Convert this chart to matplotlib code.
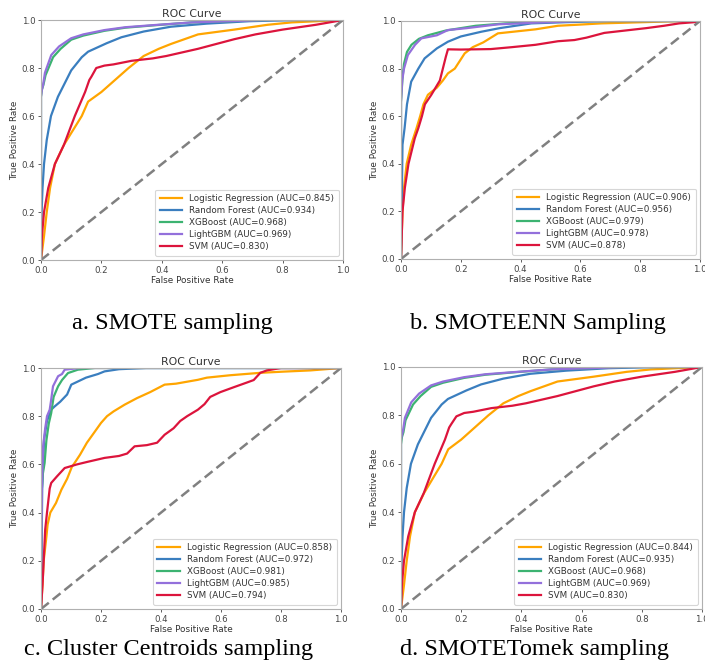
import matplotlib
matplotlib.use("Agg")
import matplotlib.pyplot as plt

# ---------------- data ----------------
model_names = ["Logistic Regression", "Random Forest", "XGBoost", "LightGBM", "SVM"]
model_colors = ["#FFA500", "#3A7EBF", "#3CB371", "#9370DB", "#DC143C"]

panel_captions = ["a. SMOTE sampling", "b. SMOTEENN Sampling",
                  "c. Cluster Centroids sampling", "d. SMOTETomek sampling"]

auc_smote = [0.845, 0.934, 0.968, 0.969, 0.830]
auc_smoteenn = [0.906, 0.956, 0.979, 0.978, 0.878]
auc_cc = [0.858, 0.972, 0.981, 0.985, 0.794]
auc_tomek = [0.844, 0.935, 0.968, 0.969, 0.830]

# Panel a: SMOTE
a_lr_fpr = [0, 0.005, 0.01, 0.019, 0.03, 0.046, 0.076, 0.135, 0.156, 0.2, 0.245, 0.29, 0.34, 0.39, 0.43, 0.52, 0.64, 0.75, 0.83, 1.0]
a_lr_tpr = [0, 0.05, 0.1, 0.2, 0.3, 0.4, 0.48, 0.6, 0.66, 0.7, 0.75, 0.8, 0.85, 0.88, 0.9, 0.94, 0.96, 0.98, 0.99, 1.0]
a_rf_fpr = [0, 0.002, 0.005, 0.01, 0.019, 0.033, 0.056, 0.10, 0.135, 0.156, 0.217, 0.266, 0.34, 0.43, 0.55, 0.69, 0.85, 1.0]
a_rf_tpr = [0, 0.2, 0.3, 0.4, 0.5, 0.6, 0.68, 0.79, 0.845, 0.868, 0.903, 0.928, 0.952, 0.972, 0.985, 0.995, 1.0, 1.0]
a_xgb_fpr = [0, 0, 0.003, 0.008, 0.015, 0.04, 0.065, 0.10, 0.14, 0.21, 0.28, 0.376, 0.5, 0.75, 1.0]
a_xgb_tpr = [0, 0.68, 0.71, 0.73, 0.77, 0.845, 0.88, 0.918, 0.935, 0.955, 0.968, 0.978, 0.99, 1.0, 1.0]
a_lgb_fpr = [0, 0, 0.003, 0.007, 0.013, 0.034, 0.06, 0.10, 0.14, 0.21, 0.28, 0.376, 0.5, 0.75, 1.0]
a_lgb_tpr = [0, 0.68, 0.71, 0.73, 0.78, 0.854, 0.89, 0.924, 0.94, 0.958, 0.97, 0.979, 0.99, 1.0, 1.0]
a_svm_fpr = [0, 0.003, 0.01, 0.024, 0.046, 0.076, 0.112, 0.146, 0.16, 0.167, 0.183, 0.21, 0.24, 0.3, 0.37, 0.415, 0.52, 0.58, 0.64, 0.71, 0.80, 0.91, 1.0]
a_svm_tpr = [0, 0.1, 0.2, 0.3, 0.4, 0.48, 0.6, 0.7, 0.75, 0.764, 0.80, 0.81, 0.815, 0.83, 0.84, 0.85, 0.88, 0.9, 0.92, 0.94, 0.96, 0.98, 1.0]

# Panel b: SMOTEENN
b_lr_fpr = [0, 0.005, 0.01, 0.019, 0.034, 0.052, 0.064, 0.075, 0.09, 0.12, 0.14, 0.157, 0.18, 0.213, 0.24, 0.275, 0.324, 0.376, 0.45, 0.525, 0.6, 0.67, 0.95, 1.0]
b_lr_tpr = [0, 0.2, 0.3, 0.4, 0.48, 0.55, 0.6, 0.65, 0.69, 0.72, 0.75, 0.78, 0.8, 0.864, 0.89, 0.91, 0.948, 0.955, 0.965, 0.98, 0.985, 0.99, 1.0, 1.0]
b_rf_fpr = [0, 0.005, 0.012, 0.02, 0.034, 0.058, 0.079, 0.12, 0.157, 0.2, 0.269, 0.33, 0.436, 0.55, 0.7, 1.0]
b_rf_tpr = [0, 0.48, 0.55, 0.65, 0.745, 0.8, 0.843, 0.885, 0.913, 0.935, 0.955, 0.97, 0.99, 0.995, 1.0, 1.0]
b_xgb_fpr = [0, 0, 0.005, 0.01, 0.02, 0.035, 0.06, 0.09, 0.15, 0.25, 0.35, 0.55, 1.0]
b_xgb_tpr = [0, 0.66, 0.76, 0.82, 0.87, 0.9, 0.925, 0.94, 0.96, 0.98, 0.99, 1.0, 1.0]
b_lgb_fpr = [0, 0, 0.004, 0.01, 0.023, 0.047, 0.068, 0.12, 0.157, 0.22, 0.324, 0.45, 0.6, 1.0]
b_lgb_tpr = [0, 0.66, 0.75, 0.8, 0.857, 0.9, 0.927, 0.94, 0.962, 0.97, 0.986, 0.993, 1.0, 1.0]
b_svm_fpr = [0, 0.005, 0.013, 0.025, 0.046, 0.058, 0.07, 0.08, 0.101, 0.13, 0.14, 0.15, 0.157, 0.2, 0.3, 0.37, 0.45, 0.525, 0.58, 0.62, 0.68, 0.75, 0.82, 0.88, 0.93, 0.98, 1.0]
b_svm_tpr = [0, 0.2, 0.3, 0.4, 0.507, 0.55, 0.6, 0.65, 0.689, 0.75, 0.8, 0.85, 0.881, 0.88, 0.882, 0.89, 0.9, 0.915, 0.92, 0.93, 0.95, 0.96, 0.97, 0.98, 0.99, 0.995, 1.0]

# Panel c: Cluster Centroids
c_lr_fpr = [0, 0.005, 0.009, 0.018, 0.022, 0.031, 0.05, 0.068, 0.087, 0.103, 0.112, 0.13, 0.153, 0.176, 0.2, 0.22, 0.242, 0.279, 0.32, 0.364, 0.412, 0.45, 0.523, 0.553, 0.631, 0.731, 0.809, 0.898, 1.0]
c_lr_tpr = [0, 0.1, 0.2, 0.3, 0.35, 0.4, 0.44, 0.495, 0.54, 0.59, 0.606, 0.64, 0.69, 0.73, 0.772, 0.8, 0.82, 0.848, 0.875, 0.9, 0.931, 0.935, 0.951, 0.96, 0.97, 0.98, 0.985, 0.99, 1.0]
c_rf_fpr = [0, 0.004, 0.01, 0.02, 0.034, 0.045, 0.064, 0.087, 0.101, 0.15, 0.19, 0.212, 0.26, 0.35, 1.0]
c_rf_tpr = [0, 0.5, 0.7, 0.78, 0.827, 0.84, 0.86, 0.89, 0.931, 0.96, 0.975, 0.986, 0.995, 1.0, 1.0]
c_xgb_fpr = [0, 0.003, 0.006, 0.012, 0.018, 0.026, 0.034, 0.042, 0.057, 0.07, 0.09, 0.123, 0.18, 1.0]
c_xgb_tpr = [0, 0.5, 0.56, 0.606, 0.7, 0.77, 0.813, 0.88, 0.924, 0.95, 0.979, 0.993, 1.0, 1.0]
c_lgb_fpr = [0, 0.003, 0.007, 0.014, 0.02, 0.029, 0.033, 0.04, 0.057, 0.07, 0.079, 0.13, 1.0]
c_lgb_tpr = [0, 0.5, 0.675, 0.75, 0.8, 0.827, 0.86, 0.924, 0.966, 0.975, 0.993, 1.0, 1.0]
c_svm_fpr = [0, 0.005, 0.014, 0.02, 0.029, 0.034, 0.053, 0.079, 0.12, 0.153, 0.212, 0.26, 0.287, 0.312, 0.353, 0.387, 0.412, 0.442, 0.464, 0.487, 0.523, 0.545, 0.564, 0.598, 0.642, 0.687, 0.709, 0.731, 0.753, 0.8, 1.0]
c_svm_tpr = [0, 0.1, 0.33, 0.4, 0.5, 0.523, 0.55, 0.585, 0.6, 0.61, 0.627, 0.635, 0.645, 0.675, 0.68, 0.69, 0.723, 0.75, 0.78, 0.8, 0.827, 0.85, 0.88, 0.9, 0.92, 0.94, 0.95, 0.98, 0.99, 1.0, 1.0]

# Panel d: SMOTETomek
d_lr_fpr = [0, 0.005, 0.01, 0.019, 0.03, 0.046, 0.077, 0.135, 0.157, 0.2, 0.245, 0.29, 0.34, 0.39, 0.43, 0.52, 0.64, 0.75, 0.83, 1.0]
d_lr_tpr = [0, 0.05, 0.1, 0.2, 0.3, 0.4, 0.48, 0.6, 0.66, 0.7, 0.75, 0.8, 0.85, 0.88, 0.9, 0.94, 0.96, 0.98, 0.99, 1.0]
d_rf_fpr = [0, 0.002, 0.005, 0.01, 0.019, 0.033, 0.056, 0.10, 0.135, 0.156, 0.217, 0.266, 0.34, 0.43, 0.55, 0.69, 0.85, 1.0]
d_rf_tpr = [0, 0.2, 0.3, 0.4, 0.5, 0.6, 0.68, 0.79, 0.845, 0.868, 0.903, 0.928, 0.952, 0.972, 0.985, 0.995, 1.0, 1.0]
d_xgb_fpr = [0, 0, 0.003, 0.008, 0.015, 0.04, 0.065, 0.10, 0.14, 0.21, 0.28, 0.376, 0.5, 0.75, 1.0]
d_xgb_tpr = [0, 0.68, 0.71, 0.73, 0.78, 0.845, 0.88, 0.918, 0.935, 0.955, 0.968, 0.978, 0.99, 1.0, 1.0]
d_lgb_fpr = [0, 0, 0.003, 0.007, 0.013, 0.034, 0.06, 0.10, 0.14, 0.21, 0.28, 0.376, 0.5, 0.75, 1.0]
d_lgb_tpr = [0, 0.7, 0.72, 0.74, 0.79, 0.854, 0.89, 0.924, 0.94, 0.958, 0.97, 0.979, 0.99, 1.0, 1.0]
d_svm_fpr = [0, 0.003, 0.01, 0.024, 0.046, 0.076, 0.112, 0.146, 0.16, 0.167, 0.184, 0.21, 0.24, 0.3, 0.37, 0.415, 0.52, 0.58, 0.64, 0.71, 0.80, 0.91, 1.0]
d_svm_tpr = [0, 0.1, 0.2, 0.3, 0.4, 0.48, 0.6, 0.7, 0.75, 0.764, 0.796, 0.81, 0.815, 0.83, 0.84, 0.85, 0.88, 0.9, 0.92, 0.94, 0.96, 0.98, 1.0]

panels = [
    (auc_smote, [(a_lr_fpr, a_lr_tpr), (a_rf_fpr, a_rf_tpr), (a_xgb_fpr, a_xgb_tpr), (a_lgb_fpr, a_lgb_tpr), (a_svm_fpr, a_svm_tpr)]),
    (auc_smoteenn, [(b_lr_fpr, b_lr_tpr), (b_rf_fpr, b_rf_tpr), (b_xgb_fpr, b_xgb_tpr), (b_lgb_fpr, b_lgb_tpr), (b_svm_fpr, b_svm_tpr)]),
    (auc_cc, [(c_lr_fpr, c_lr_tpr), (c_rf_fpr, c_rf_tpr), (c_xgb_fpr, c_xgb_tpr), (c_lgb_fpr, c_lgb_tpr), (c_svm_fpr, c_svm_tpr)]),
    (auc_tomek, [(d_lr_fpr, d_lr_tpr), (d_rf_fpr, d_rf_tpr), (d_xgb_fpr, d_xgb_tpr), (d_lgb_fpr, d_lgb_tpr), (d_svm_fpr, d_svm_tpr)]),
]

# ---------------- layout ----------------
W, H = 705, 665
fig = plt.figure(figsize=(W / 100, H / 100), dpi=100)
fig.patch.set_facecolor("white")

# axes boxes in pixels: (left, top, right, bottom)
boxes = [(41, 20, 343, 260), (401, 21, 700, 259), (41, 368, 341, 609), (401, 367, 702, 609)]
caption_pos = [(172, 324), (538, 324), (169, 650), (534, 650)]

for i, (aucs, curves) in enumerate(panels):
    l, t, r, b = boxes[i]
    ax = fig.add_axes([l / W, (H - b) / H, (r - l) / W, (b - t) / H])
    for name, color, auc, (fpr, tpr) in zip(model_names, model_colors, aucs, curves):
        ax.plot(fpr, tpr, color=color, lw=1.6, label=f"{name} (AUC={auc:.3f})")
    ax.plot([0, 1], [0, 1], color="gray", lw=1.8, ls=(0, (4, 2)))
    ax.set_xlim(0, 1)
    ax.set_ylim(0, 1)
    ax.set_title("ROC Curve", fontsize=7.8, color="#333333", pad=2)
    ax.set_xlabel("False Positive Rate", fontsize=6.4, color="#333333", labelpad=1)
    ax.set_ylabel("True Positive Rate", fontsize=6.4, color="#333333", labelpad=2)
    ax.tick_params(labelsize=6.2, colors="#444444", length=2.5, width=0.6, pad=1.5)
    for s in ax.spines.values():
        s.set_color("#b0b0b0")
        s.set_linewidth(0.8)
    leg = ax.legend(loc="lower right", fontsize=6.3, handlelength=2.6, borderpad=0.5,
                    labelspacing=0.35, frameon=True, fancybox=True)
    leg.get_frame().set_edgecolor("#cccccc")
    leg.get_frame().set_linewidth(0.8)
    for txt in leg.get_texts():
        txt.set_color("#333333")
    cx, cy = caption_pos[i]
    fig.text(cx / W, 1 - cy / H, panel_captions[i], ha="center", va="center",
             fontsize=17.5, family="Liberation Serif", color="black")

fig.savefig("out.png", dpi=100)
